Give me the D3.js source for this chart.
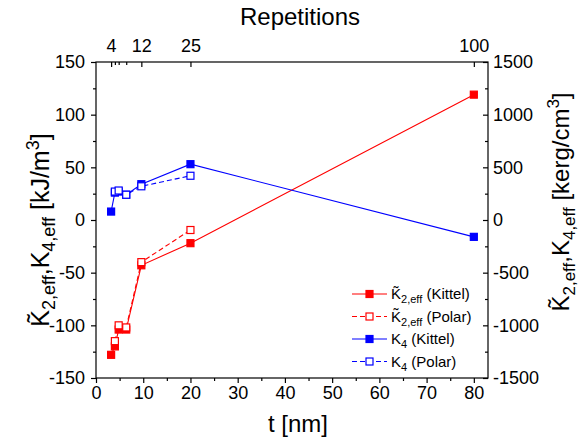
<!DOCTYPE html>
<html>
<head>
<meta charset="utf-8">
<script src="https://cdn.jsdelivr.net/npm/d3@7"></script>
<style>
  body { margin: 0; background: #fff; }
  svg { font-family: "Liberation Sans", Arial, sans-serif; }
</style>
</head>
<body>
<svg id="chart" width="579" height="439"></svg>
<script>
// thickness values [nm]
const tKittel = [3.2, 4, 4.8, 6.4, 9.6, 20, 80];
const k2Kittel = [-128, -120, -104, -104, -43, -22, 119];
const k4Kittel = [8, 26, 27, 24, 34, 53, -16];
const tPolar = [4, 4.8, 6.4, 9.6, 20];
const k2Polar = [-115, -100, -102, -40, -9.5];
const k4Polar = [27, 28, 24, 32, 42];

// top axis: repetitions (0.8 nm per repetition)
const repTicks = [4, 5, 6, 8, 12, 25, 100];
const repLabels = [4, 12, 25, 100];
const nmPerRep = 0.8;

const leftTicks = [-150, -100, -50, 0, 50, 100, 150];
const rightTicks = [-1500, -1000, -500, 0, 500, 1000, 1500];
const bottomTicks = [0, 10, 20, 30, 40, 50, 60, 70, 80];

const svg = d3.select('#chart');
const pL = 96, pR = 488, pT = 62, pB = 378;

const x = d3.scaleLinear().domain([0, 83]).range([pL, pR]);
const y = d3.scaleLinear().domain([-150, 150]).range([pB, pT]);
const yR = d3.scaleLinear().domain([-1500, 1500]).range([pB, pT]);

const fs = 18;

// bottom axis
const gB = svg.append('g').attr('transform', `translate(0,${pB})`)
  .call(d3.axisBottom(x).tickValues(d3.range(0, 83, 5)).tickSize(5)
    .tickFormat(d => bottomTicks.includes(d) ? d : ''));
gB.selectAll('.tick line').attr('y2', d => d % 10 === 0 ? 5 : 3);

// left axis
const gL = svg.append('g').attr('transform', `translate(${pL},0)`)
  .call(d3.axisLeft(y).tickValues(d3.range(-150, 151, 25)).tickSize(5).tickPadding(6)
    .tickFormat(d => leftTicks.includes(d) ? d : ''));
gL.selectAll('.tick line').attr('x2', d => d % 50 === 0 ? -5 : -3);

// right axis (inward ticks)
const gR = svg.append('g').attr('transform', `translate(${pR},0)`)
  .call(d3.axisRight(yR).tickValues(d3.range(-1500, 1501, 250)).tickSize(-5).tickPadding(5)
    .tickFormat(d => rightTicks.includes(d) ? d : ''));
gR.selectAll('.tick line').attr('x2', d => d % 500 === 0 ? -5 : -3);

// top axis (inward ticks)
const gT = svg.append('g').attr('transform', `translate(0,${pT})`)
  .call(d3.axisTop(x).tickValues(repTicks.map(r => r * nmPerRep)).tickSize(-5).tickPadding(10)
    .tickFormat((d, i) => repLabels.includes(repTicks[i]) ? repTicks[i] : ''));
gT.selectAll('.tick line').attr('y2', (d, i) => repLabels.includes(repTicks[i]) ? 5 : 3);

[gB, gL, gR, gT].forEach(g => {
  g.selectAll('text').attr('font-size', fs).attr('fill', '#000');
  g.selectAll('line, path').attr('stroke', '#000').attr('stroke-width', 1.2);
  g.select('.domain').remove();
  g.attr('font-family', null).attr('font-size', null);
});
// frame
svg.append('rect').attr('x', pL).attr('y', pT).attr('width', pR - pL).attr('height', pB - pT)
  .attr('fill', 'none').attr('stroke', '#000').attr('stroke-width', 1.2);

// series
const series = [
  { t: tKittel, v: k2Kittel, color: '#ff0000', dash: null, filled: true },
  { t: tPolar, v: k2Polar, color: '#ff0000', dash: '5,3', filled: false },
  { t: tKittel, v: k4Kittel, color: '#0000ff', dash: null, filled: true },
  { t: tPolar, v: k4Polar, color: '#0000ff', dash: '5,3', filled: false }
];
const line = d3.line().x(d => x(d[0])).y(d => y(d[1]));
const ms = 7;
series.forEach(s => {
  const pts = s.t.map((t, i) => [t, s.v[i]]);
  svg.append('path').datum(pts).attr('d', line).attr('fill', 'none')
    .attr('stroke', s.color).attr('stroke-width', 1.1).attr('stroke-dasharray', s.dash);
  svg.append('g').selectAll('rect').data(pts).enter().append('rect')
    .attr('x', d => x(d[0]) - ms / 2).attr('y', d => y(d[1]) - ms / 2)
    .attr('width', ms).attr('height', ms)
    .attr('fill', s.filled ? s.color : '#fff').attr('stroke', s.color).attr('stroke-width', 1.2);
});

// legend
const legendItems = [
  { main: 'K\u0303', sub: '2,eff', rest: ' (Kittel)' },
  { main: 'K\u0303', sub: '2,eff', rest: ' (Polar)' },
  { main: 'K', sub: '4', rest: ' (Kittel)' },
  { main: 'K', sub: '4', rest: ' (Polar)' }
];
const lg = svg.append('g');
legendItems.forEach((it, i) => {
  const s = series[i];
  const ly = 294 + i * 22.5;
  lg.append('line').attr('x1', 352).attr('x2', 387).attr('y1', ly).attr('y2', ly)
    .attr('stroke', s.color).attr('stroke-width', 1.2).attr('stroke-dasharray', s.dash);
  lg.append('rect').attr('x', 369.5 - 3.5).attr('y', ly - 3.5).attr('width', 7).attr('height', 7)
    .attr('fill', s.filled ? s.color : '#fff').attr('stroke', s.color).attr('stroke-width', 1.2);
  const t = lg.append('text').attr('x', 391).attr('y', ly + 5).attr('font-size', 15);
  t.append('tspan').text(it.main);
  t.append('tspan').attr('dy', 4).attr('font-size', 11).text(it.sub);
  t.append('tspan').attr('dy', -4).text(it.rest);
});

// titles
svg.append('text').attr('x', 300).attr('y', 25).attr('text-anchor', 'middle')
  .attr('font-size', 24).text('Repetitions');
svg.append('text').attr('x', 298).attr('y', 432).attr('text-anchor', 'middle')
  .attr('font-size', 24).text('t [nm]');

function yTitle(xp, yp, size, unit) {
  const sub = Math.round(size * 0.72);
  const t = svg.append('text').attr('transform', `translate(${xp},${yp}) rotate(-90)`)
    .attr('text-anchor', 'middle').attr('font-size', size);
  t.append('tspan').text('K\u0303');
  t.append('tspan').attr('dy', 6).attr('font-size', sub).text('2,eff');
  t.append('tspan').attr('dy', -6).text(',K');
  t.append('tspan').attr('dy', 6).attr('font-size', sub).text('4,eff');
  t.append('tspan').attr('dy', -6).text(' [' + unit);
  t.append('tspan').attr('dy', -10).attr('font-size', sub).text('3');
  t.append('tspan').attr('dy', 10).text(']');
}
yTitle(49, 230, 25, 'kJ/m');
yTitle(569, 202, 24, 'kerg/cm');
</script>
</body>
</html>
